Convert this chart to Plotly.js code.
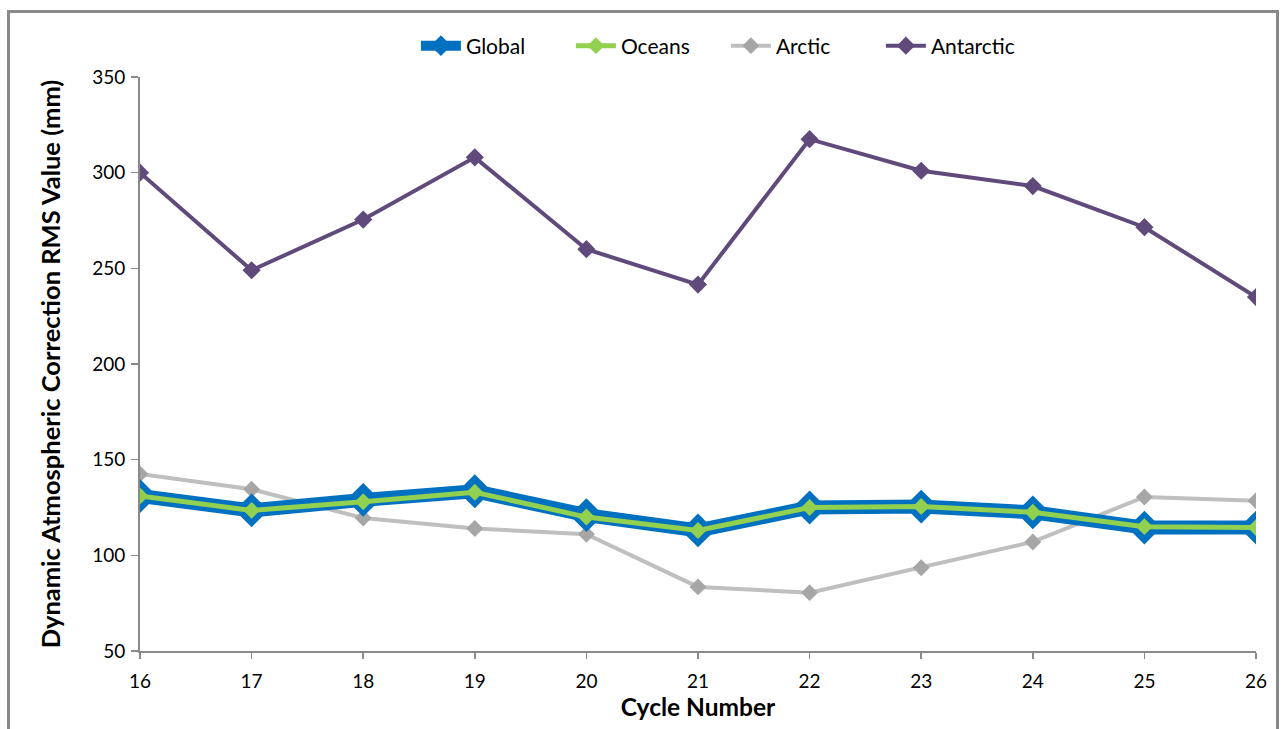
<!DOCTYPE html>
<html>
<head>
<meta charset="utf-8">
<script src="https://cdn.plot.ly/plotly-3.0.1.min.js"></script>
<style>
html,body{margin:0;padding:0;background:#fff;overflow:hidden;}
#frame{position:absolute;left:7px;top:10px;width:1272px;height:740px;border:3px solid #898989;box-sizing:border-box;pointer-events:none;z-index:5;}
#chart{position:absolute;left:0;top:0;width:1284px;height:729px;}
</style>
</head>
<body>
<div id="chart"></div>
<div id="frame"></div>
<script>
const cycles = [16,17,18,19,20,21,22,23,24,25,26];
const globalVals = [131,123.5,129,133.5,121,113,125,125.5,122.5,114.5,114.5];
const oceansVals = [131,123.5,128,133,120,113,125,125.5,122.5,115,114.5];
const arcticVals = [142.5,134.5,119.5,114,111,83.5,80.5,93.5,107,130.5,128.5];
const antarcticVals = [300,249,275.5,308,260,241.5,317.5,301,293,271.5,235];
const seriesNames = ['Global','Oceans','Arctic','Antarctic'];

const traces = [
  {name:'Global', x:cycles, y:globalVals, mode:'lines+markers',
   line:{color:'#0070C0', width:14}, marker:{symbol:'diamond', size:26, color:'#0070C0'}},
  {name:'Oceans', x:cycles, y:oceansVals, mode:'lines+markers',
   line:{color:'#92D050', width:5}, marker:{symbol:'diamond', size:13, color:'#92D050'}},
  {name:'Arctic', x:cycles, y:arcticVals, mode:'lines+markers',
   line:{color:'#BFBFBF', width:4}, marker:{symbol:'diamond', size:13, color:'#A6A6A6'}},
  {name:'Antarctic', x:cycles, y:antarcticVals, mode:'lines+markers',
   line:{color:'#604A7B', width:4}, marker:{symbol:'diamond', size:14, color:'#604A7B'}}
];
const order = [3,2,0,1];
const data = order.map(i=>traces[i]);
data.forEach(t=>{t.legendrank = seriesNames.indexOf(t.name);});

const layout = {
  width:1284, height:729,
  paper_bgcolor:'#ffffff', plot_bgcolor:'#ffffff',
  margin:{l:140, r:28, t:77, b:78},
  font:{family:'Lato, "Open Sans", sans-serif', color:'#000'},
  showlegend:true,
  legend:{orientation:'h', x:0.525, xanchor:'center', y:1.054, yanchor:'middle',
          font:{size:21, family:'Lato, sans-serif'}, traceorder:'normal', itemwidth:40,
          entrywidth:100, entrywidthmode:'pixels'},
  xaxis:{range:[16,26], tickvals:cycles, ticktext:cycles.map(String),
         showgrid:false, zeroline:false, showline:true, linecolor:'#898989', linewidth:2,
         ticks:'outside', ticklen:6, tickcolor:'#898989', tickwidth:1.5, ticklabelstandoff:6,
         tickfont:{size:19, family:'Lato, sans-serif'},
         title:{text:'<b>Cycle Number</b>', font:{size:24.5, family:'Lato, sans-serif'}, standoff:0}},
  yaxis:{range:[50,350], tickvals:[50,100,150,200,250,300,350],
         showgrid:false, zeroline:false, showline:true, linecolor:'#898989', linewidth:2,
         ticks:'outside', ticklen:7, tickcolor:'#898989', tickwidth:1.5, ticklabelstandoff:2,
         tickfont:{size:19, family:'Lato, sans-serif'},
         title:{text:'<b>Dynamic Atmospheric Correction RMS Value (mm)</b>', font:{size:25.5, family:'Lato, sans-serif'}, standoff:24}},
};
Plotly.newPlot('chart', data, layout, {displayModeBar:false, staticPlot:true});
</script>
</body>
</html>
